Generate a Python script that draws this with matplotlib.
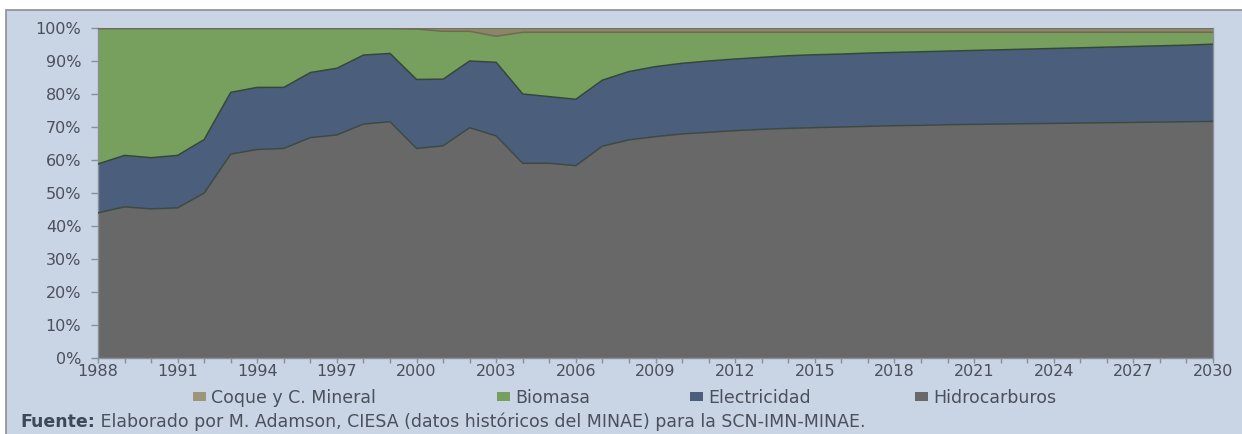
import numpy as np
import matplotlib
matplotlib.use("Agg")
import matplotlib.pyplot as plt
from matplotlib.patches import Rectangle

# Participación por fuente en el consumo final de energía (%)
years = list(range(1988, 2031))

hidrocarburos = [44.0, 45.8, 45.2, 45.5, 50.0, 61.8, 63.2, 63.5, 66.8, 67.6,
                 70.9, 71.6, 63.5, 64.3, 69.8, 67.3, 59.0, 59.0, 58.3, 64.2,
                 66.1, 67.1, 67.9, 68.4, 68.9, 69.3, 69.6, 69.8, 70.0, 70.2,
                 70.4, 70.5, 70.7, 70.8, 70.9, 71.0, 71.1, 71.2, 71.3, 71.4,
                 71.5, 71.6, 71.7]
electricidad = [14.8, 15.6, 15.5, 15.9, 16.2, 18.7, 18.8, 18.5, 19.7, 20.2,
                20.9, 20.7, 20.9, 20.2, 20.2, 22.3, 21.0, 20.2, 20.1, 20.0,
                20.7, 21.2, 21.4, 21.6, 21.7, 21.8, 22.0, 22.1, 22.1, 22.2,
                22.2, 22.3, 22.3, 22.4, 22.5, 22.6, 22.7, 22.8, 22.9, 23.0,
                23.1, 23.2, 23.4]
biomasa = [41.0, 38.4, 39.1, 38.4, 33.6, 19.3, 17.8, 17.8, 13.3, 12.0,
           8.0, 7.5, 15.3, 14.5, 9.0, 7.9, 18.7, 19.5, 20.3, 14.5,
           11.9, 10.4, 9.4, 8.7, 8.1, 7.6, 7.1, 6.8, 6.6, 6.3,
           6.1, 5.9, 5.7, 5.5, 5.3, 5.1, 4.9, 4.7, 4.5, 4.3,
           4.1, 3.9, 3.6]
coque = [0.2, 0.2, 0.2, 0.2, 0.2, 0.2, 0.2, 0.2, 0.2, 0.2,
         0.2, 0.2, 0.3, 1.0, 1.0, 2.5, 1.3, 1.3, 1.3, 1.3,
         1.3, 1.3, 1.3, 1.3, 1.3, 1.3, 1.3, 1.3, 1.3, 1.3,
         1.3, 1.3, 1.3, 1.3, 1.3, 1.3, 1.3, 1.3, 1.3, 1.3,
         1.3, 1.3, 1.3]

series_names = ["Hidrocarburos", "Electricidad", "Biomasa", "Coque y C. Mineral"]
series_colors = ["#686868", "#4b5f7d", "#77a05f", "#8c8669"]
legend_order = ["Coque y C. Mineral", "Biomasa", "Electricidad", "Hidrocarburos"]
legend_colors = {"Coque y C. Mineral": "#9c9679", "Biomasa": "#77a05f",
                 "Electricidad": "#4b5f7d", "Hidrocarburos": "#686868"}
year_labels = [str(y) if (y - 1988) % 3 == 0 else "" for y in years]
pct_ticks = list(range(0, 101, 10))

source_bold = "Fuente:"
source_text = " Elaborado por M. Adamson, CIESA (datos históricos del MINAE) para la SCN-IMN-MINAE."

bg = "#c9d4e4"
txt = "#4a505c"
plt.rcParams["font.family"] = ["DejaVu Sans"]

W, H = 1242, 434
fig = plt.figure(figsize=(W / 100, H / 100), dpi=100, facecolor="white")

# panel frame behind everything
fig.patches.append(Rectangle((6 / W, -0.05), 1.1, 1 - 10 / H + 0.05,
                             transform=fig.transFigure, facecolor=bg,
                             edgecolor="#8a8f98", linewidth=1.2, zorder=-10))

ax = fig.add_axes([98 / W, 1 - 358 / H, (1213 - 98) / W, (358 - 28) / H])
ax.set_facecolor(bg)

data = np.array([hidrocarburos, electricidad, biomasa, coque])
ax.stackplot(years, data, colors=series_colors, labels=series_names,
             linewidth=0, zorder=2)

tops = np.cumsum(data, axis=0)
line_colors = ["#3d4a44", "#34483a", "#6e6a55", "#6e6a55"]
for top, lc in zip(tops, line_colors):
    ax.plot(years, top, color=lc, linewidth=1.1, zorder=3)

ax.set_xlim(years[0], years[-1])
ax.set_ylim(0, 100)
ax.set_xticks(years)
ax.set_xticklabels(year_labels)
ax.set_yticks(pct_ticks)
ax.set_yticklabels([f"{v}%" for v in pct_ticks])
ax.tick_params(axis="both", colors="#8a8f98", labelcolor=txt, labelsize=11.5,
               direction="out", width=1)
ax.tick_params(axis="x", length=3.5, pad=0.5)
ax.tick_params(axis="y", length=5, pad=7)

ax.spines["top"].set_visible(False)
for side in ["left", "bottom", "right"]:
    ax.spines[side].set_color("#8a8f98")
    ax.spines[side].set_linewidth(1)

# legend entries, one per series, laid out in a single row
legend_x = [193, 497, 690, 915]
for name, x0 in zip(legend_order, legend_x):
    h = Rectangle((0, 0), 1, 1, facecolor=legend_colors[name], edgecolor="none")
    fig.legend([h], [name], loc="center left",
               bbox_to_anchor=(x0 / W, 1 - 398 / H), frameon=False,
               fontsize=12.5, labelcolor=txt, handlelength=0.75,
               handleheight=0.45, handletextpad=0.3, borderpad=0,
               borderaxespad=0)

t1 = fig.text(20 / W, 1 - 422 / H, source_bold, fontsize=12.5, fontweight="bold",
              color="#3e4858", ha="left", va="center")
ax.annotate(source_text, xy=(1, 0.5), xycoords=t1, ha="left", va="center",
            fontsize=12.5, color=txt, annotation_clip=False)

fig.savefig("out.png", dpi=100, facecolor="white")
